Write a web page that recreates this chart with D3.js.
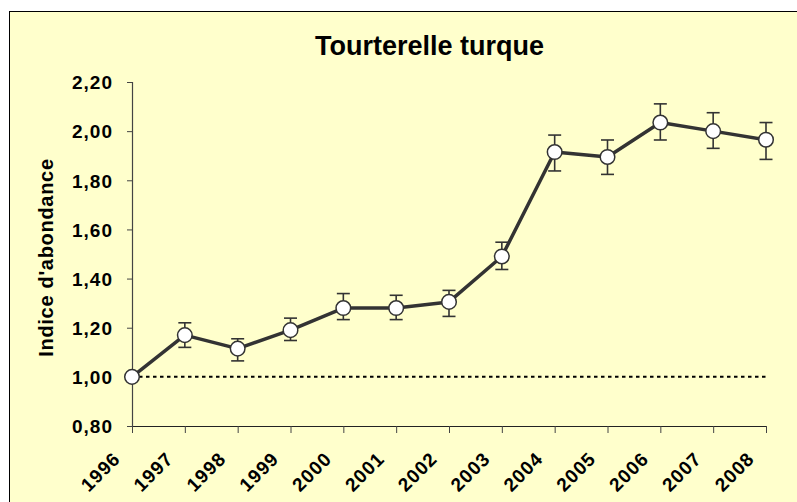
<!DOCTYPE html>
<html>
<head>
<meta charset="utf-8">
<script src="https://cdn.jsdelivr.net/npm/d3@7"></script>
<style>
  body { margin: 0; background: #fff; }
  svg { display: block; }
  text { font-family: "Liberation Sans", Arial, sans-serif; font-weight: bold; fill: #000; }
</style>
</head>
<body>
<svg width="797" height="502"></svg>
<script>
// data
const years = ['1996','1997','1998','1999','2000','2001','2002','2003','2004','2005','2006','2007','2008'];
const indexValues = [1.00, 1.17, 1.115, 1.19, 1.28, 1.28, 1.305, 1.49, 1.915, 1.895, 2.035, 2.0, 1.965];
const lowerValues = [1.00, 1.12, 1.065, 1.148, 1.233, 1.233, 1.246, 1.437, 1.838, 1.824, 1.964, 1.930, 1.885];
const upperValues = [1.00, 1.22, 1.155, 1.239, 1.339, 1.332, 1.352, 1.548, 1.984, 1.964, 2.111, 2.075, 2.035];
const yTicks = [0.8, 1.0, 1.2, 1.4, 1.6, 1.8, 2.0, 2.2];
const chartTitle = 'Tourterelle turque';
const yTitle = "Indice d'abondance";

const svg = d3.select('svg');
const width = +svg.attr('width');
const height = +svg.attr('height');

const frLocale = d3.formatLocale({decimal: ',', thousands: ' ', grouping: [3], currency: ['', ' €']});
const fmt = frLocale.format('.2f');

// chart area background + border
svg.append('rect')
    .attr('x', 9.5).attr('y', 11.5)
    .attr('width', width + 20).attr('height', height + 20)
    .attr('fill', '#ffffcc')
    .attr('stroke', '#000')
    .attr('stroke-width', 1);

const plot = {left: 132, right: 766, top: 82, bottom: 426};

const xScale = d3.scalePoint()
    .domain(years)
    .range([plot.left, plot.right]);

const yScale = d3.scaleLinear()
    .domain([0.8, 2.2])
    .range([plot.bottom, plot.top]);

// title
svg.append('text')
    .attr('x', 429.5).attr('y', 55)
    .attr('text-anchor', 'middle')
    .style('font-size', '27px')
    .text(chartTitle);

// y axis
const yaxis = svg.append('g')
    .attr('transform', `translate(${plot.left},0)`)
    .call(d3.axisLeft(yScale).tickValues(yTicks).tickFormat(fmt).tickSize(5).tickPadding(14));
yaxis.select('.domain').attr('stroke', '#444').attr('stroke-width', 1.2);
yaxis.selectAll('.tick line').attr('stroke', '#444');
yaxis.selectAll('.tick text')
    .style('font-size', '19px')
    .style('letter-spacing', '1px')
    .attr('dy', '0.36em');

// x axis
const xaxis = svg.append('g')
    .attr('transform', `translate(0,${plot.bottom})`)
    .call(d3.axisBottom(xScale).tickSize(7).tickSizeOuter(0));
xaxis.select('.domain').attr('stroke', '#222').attr('stroke-width', 1.2);
xaxis.selectAll('.tick line').attr('stroke', '#444');
xaxis.selectAll('.tick text')
    .style('font-size', '19px')
    .style('letter-spacing', '1px')
    .attr('text-anchor', 'end')
    .attr('x', 0).attr('y', 0).attr('dy', 0)
    .attr('transform', 'translate(-11,34) rotate(-45)');

// y title
svg.append('text')
    .attr('transform', `translate(53,${257.5}) rotate(-90)`)
    .attr('text-anchor', 'middle')
    .style('font-size', '20px')
    .style('letter-spacing', '0.7px')
    .text(yTitle);

// reference line at 1.00
svg.append('line')
    .attr('x1', plot.left).attr('x2', plot.right)
    .attr('y1', yScale(1)).attr('y2', yScale(1))
    .attr('stroke', '#000')
    .attr('stroke-width', 2)
    .attr('stroke-dasharray', '3.5,3.5');

const data = years.map((y, i) => ({year: y, v: indexValues[i], lo: lowerValues[i], hi: upperValues[i]}));

// error bars
const eb = svg.append('g').attr('stroke', '#333').attr('stroke-width', 1.6);
data.filter(d => d.hi > d.lo).forEach(d => {
    const x = xScale(d.year);
    eb.append('line').attr('x1', x).attr('x2', x).attr('y1', yScale(d.hi)).attr('y2', yScale(d.lo));
    eb.append('line').attr('x1', x - 6.5).attr('x2', x + 6.5).attr('y1', yScale(d.hi)).attr('y2', yScale(d.hi));
    eb.append('line').attr('x1', x - 6.5).attr('x2', x + 6.5).attr('y1', yScale(d.lo)).attr('y2', yScale(d.lo));
});

// line
const line = d3.line().x(d => xScale(d.year)).y(d => yScale(d.v));
svg.append('path')
    .datum(data)
    .attr('d', line)
    .attr('fill', 'none')
    .attr('stroke', '#333')
    .attr('stroke-width', 3.5)
    .attr('stroke-linejoin', 'round');

// markers
svg.append('g').selectAll('circle').data(data)
    .enter().append('circle')
    .attr('cx', d => xScale(d.year))
    .attr('cy', d => yScale(d.v))
    .attr('r', 7.3)
    .attr('fill', '#fff')
    .attr('stroke', '#333')
    .attr('stroke-width', 1.5);
</script>
</body>
</html>
